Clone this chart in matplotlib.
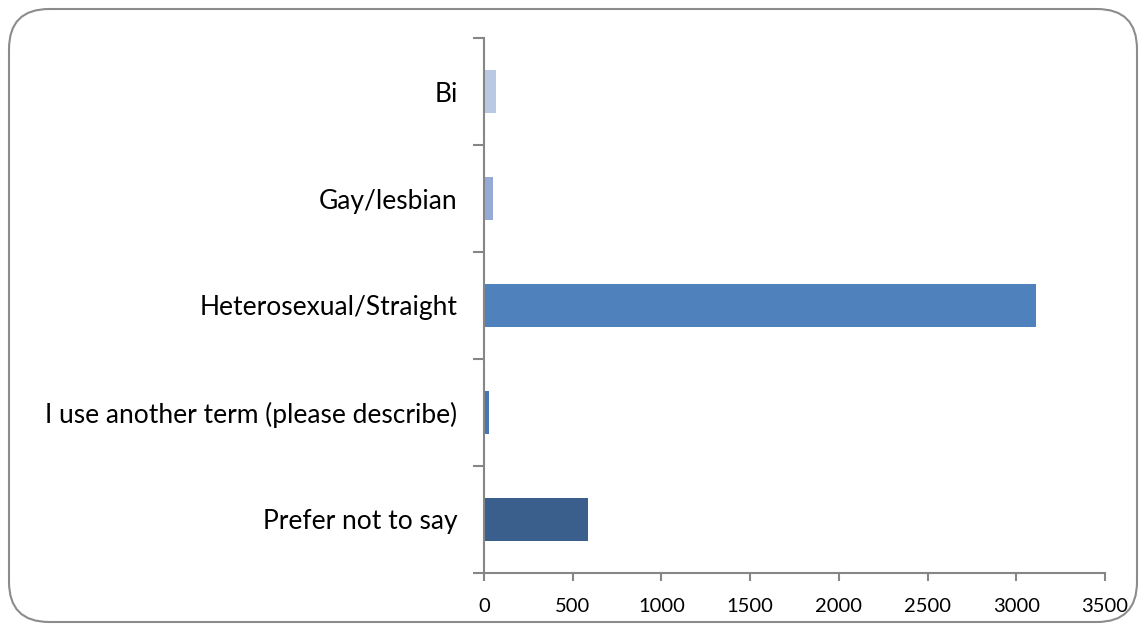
import matplotlib
matplotlib.use("Agg")
import matplotlib.pyplot as plt
from matplotlib.patches import FancyBboxPatch

categories = ["Bi", "Gay/lesbian", "Heterosexual/Straight",
              "I use another term (please describe)", "Prefer not to say"]
counts = [68, 50, 3110, 30, 586]
colors = ["#B9C9E3", "#95ABD6", "#4F81BD", "#4676B3", "#3A5F8C"]
xticks = [0, 500, 1000, 1500, 2000, 2500, 3000, 3500]

plt.rcParams["font.family"] = ["Lato", "DejaVu Sans"]

W, H = 1146, 631
fig = plt.figure(figsize=(W / 100, H / 100), dpi=100)
ax = fig.add_axes([484 / W, 1 - 573 / H, (1105 - 484) / W, (573 - 38) / H])

pos = list(range(len(categories)))
ax.barh(pos, counts, height=0.4, color=colors)
ax.set_ylim(len(categories) - 0.5, -0.5)
ax.set_xlim(0, 3500)
ax.set_xticks(xticks)
ax.set_xticklabels([str(t) for t in xticks], fontsize=14.5)
ax.set_yticks(pos)
ax.set_yticklabels(categories, fontsize=19)
ax.set_yticks([p - 0.5 for p in pos] + [len(pos) - 0.5], minor=True)
ax.tick_params(axis="y", which="major", length=0, pad=19)
ax.tick_params(axis="y", which="minor", length=8, width=1.5, color="#868686", direction="out")
ax.tick_params(axis="x", length=6, width=1.5, color="#868686", pad=12)

for s in ["top", "right"]:
    ax.spines[s].set_visible(False)
for s in ["left", "bottom"]:
    ax.spines[s].set_color("#868686")
    ax.spines[s].set_linewidth(1.5)

border = FancyBboxPatch((9 / W, 9 / H), (1146 - 18) / W, (631 - 18) / H,
                        boxstyle="round,pad=0,rounding_size=0.035",
                        transform=fig.transFigure, fill=False,
                        edgecolor="#8C8C8C", linewidth=1.5, mutation_aspect=W / H)
fig.patches.append(border)

fig.savefig("out.png", dpi=100)
